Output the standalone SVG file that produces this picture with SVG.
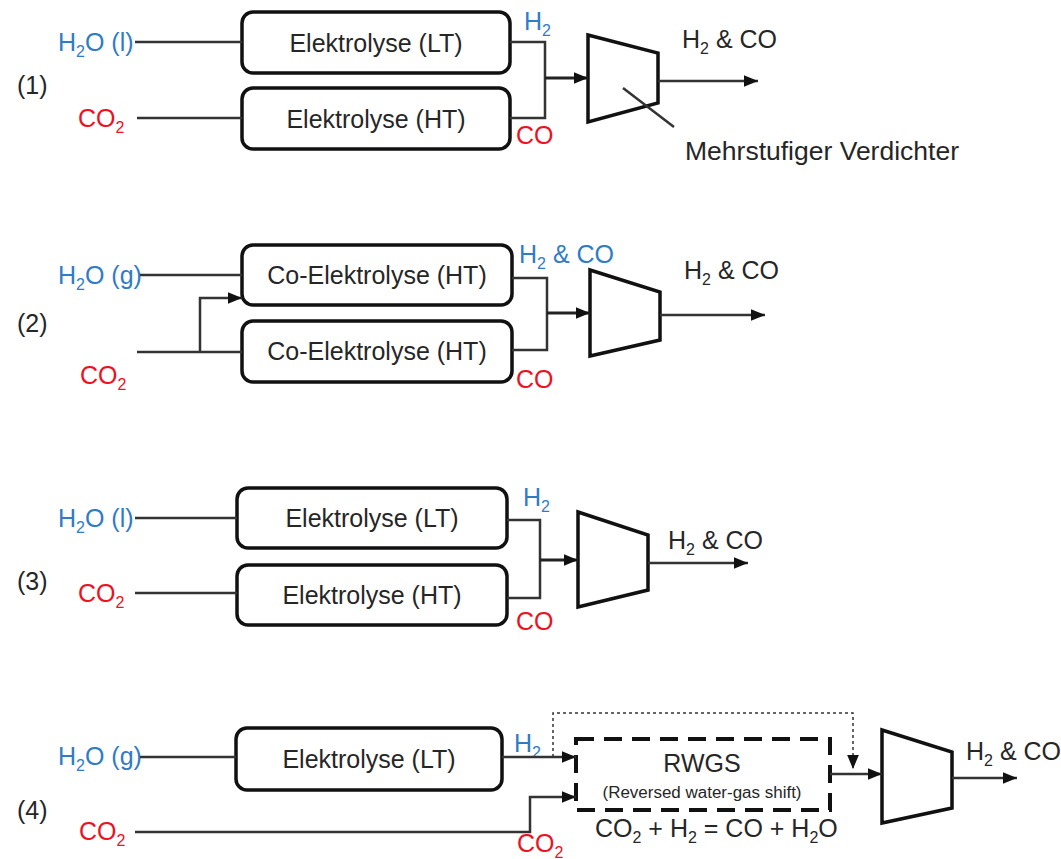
<svg xmlns="http://www.w3.org/2000/svg" width="1061" height="859" viewBox="0 0 1061 859">
<style>
text{font-family:"Liberation Sans",Arial,sans-serif;fill:#262626}
.lbl{font-size:25px}
.in{font-size:25px}
.sub{font-size:16px}
.box{fill:#fff;stroke:#111;stroke-width:3.5}
.comp{fill:#fff;stroke:#111;stroke-width:3.5;stroke-linejoin:miter}
.blue{fill:#2f7cc6}
.red{fill:#ee1122}
.ln{fill:none;stroke:#333;stroke-width:2.5}
.ln2{fill:none;stroke:#222;stroke-width:3}
.dot{fill:none;stroke:#333;stroke-width:1.5;stroke-dasharray:3,3}
.dash{fill:none;stroke:#111;stroke-width:4;stroke-dasharray:18,10}
</style>
<defs>
<marker id="ar" viewBox="0 0 12 10" refX="12" refY="5" markerWidth="14" markerHeight="12" markerUnits="userSpaceOnUse" orient="auto">
<path d="M0,0 L12,5 L0,10 Z" fill="#111"/>
</marker>
</defs>

<g id="labels">
<text x="17" y="94" class="in">(1)</text>
<text x="17" y="332" class="in">(2)</text>
<text x="17" y="590" class="in">(3)</text>
<text x="17" y="819" class="in">(4)</text>
</g>

<!-- Section 1 -->
<g id="s1-h2o"><text x="58" y="51" class="in blue">H<tspan class="sub" dy="6">2</tspan><tspan dy="-6">O (l)</tspan></text></g>
<g id="s1-co2"><text x="78" y="127" class="in red">CO<tspan class="sub" dy="6">2</tspan></text></g>
<g id="s1-lt"><rect class="box" x="242" y="12" width="268" height="61" rx="11"/><text x="376" y="52" class="lbl" text-anchor="middle">Elektrolyse (LT)</text></g>
<g id="s1-ht"><rect class="box" x="242" y="88" width="268" height="61" rx="11"/><text x="376" y="128" class="lbl" text-anchor="middle">Elektrolyse (HT)</text></g>
<g id="s1-comp"><path class="comp" d="M588,35 L658,53 L658,103 L588,122 Z"/></g>
<g id="s1-texts">
<text x="524" y="30" class="in blue">H<tspan class="sub" dy="6">2</tspan></text>
<text x="516" y="144" class="in red">CO</text>
<text x="682" y="48" class="in">H<tspan class="sub" dy="6">2</tspan><tspan dy="-6"> &amp; CO</tspan></text>
<text x="685" y="160" class="in" textLength="274" lengthAdjust="spacingAndGlyphs">Mehrstufiger Verdichter</text>
</g>

<!-- Section 2 -->
<g id="s2-h2o"><text x="58" y="284" class="in blue">H<tspan class="sub" dy="6">2</tspan><tspan dy="-6">O (g)</tspan></text></g>
<g id="s2-co2"><text x="80" y="384" class="in red">CO<tspan class="sub" dy="6">2</tspan></text></g>
<g id="s2-b1"><rect class="box" x="242" y="245" width="270" height="60" rx="11"/><text x="377" y="284" class="lbl" text-anchor="middle">Co-Elektrolyse (HT)</text></g>
<g id="s2-b2"><rect class="box" x="242" y="321" width="270" height="61" rx="11"/><text x="377" y="360" class="lbl" text-anchor="middle">Co-Elektrolyse (HT)</text></g>
<g id="s2-comp"><path class="comp" d="M590,270 L660,292 L660,340 L590,356 Z"/></g>
<g id="s2-texts">
<text x="519" y="263" class="in blue">H<tspan class="sub" dy="6">2</tspan><tspan dy="-6"> &amp; CO</tspan></text>
<text x="516" y="388" class="in red">CO</text>
<text x="684" y="279" class="in">H<tspan class="sub" dy="6">2</tspan><tspan dy="-6"> &amp; CO</tspan></text>
</g>

<!-- Section 3 -->
<g id="s3-h2o"><text x="58" y="527" class="in blue">H<tspan class="sub" dy="6">2</tspan><tspan dy="-6">O (l)</tspan></text></g>
<g id="s3-co2"><text x="78" y="602" class="in red">CO<tspan class="sub" dy="6">2</tspan></text></g>
<g id="s3-lt"><rect class="box" x="237" y="488" width="270" height="60" rx="11"/><text x="372" y="527" class="lbl" text-anchor="middle">Elektrolyse (LT)</text></g>
<g id="s3-ht"><rect class="box" x="237" y="565" width="270" height="60" rx="11"/><text x="372" y="604" class="lbl" text-anchor="middle">Elektrolyse (HT)</text></g>
<g id="s3-comp"><path class="comp" d="M578,512 L648,535 L648,590 L578,607 Z"/></g>
<g id="s3-texts">
<text x="523" y="506" class="in blue">H<tspan class="sub" dy="6">2</tspan></text>
<text x="516" y="630" class="in red">CO</text>
<text x="668" y="549" class="in">H<tspan class="sub" dy="6">2</tspan><tspan dy="-6"> &amp; CO</tspan></text>
</g>

<!-- Section 4 -->
<g id="s4-h2o"><text x="58" y="765" class="in blue">H<tspan class="sub" dy="6">2</tspan><tspan dy="-6">O (g)</tspan></text></g>
<g id="s4-co2"><text x="79" y="840" class="in red">CO<tspan class="sub" dy="6">2</tspan></text></g>
<g id="s4-lt"><rect class="box" x="236" y="728" width="266" height="62" rx="11"/><text x="369" y="768" class="lbl" text-anchor="middle">Elektrolyse (LT)</text></g>
<g id="s4-rwgs"><rect class="dash" x="576" y="739" width="254" height="71"/>
<text x="702" y="772" class="lbl" text-anchor="middle">RWGS</text>
<text x="702" y="798" font-size="16" text-anchor="middle" textLength="199" lengthAdjust="spacingAndGlyphs">(Reversed water-gas shift)</text></g>
<g id="s4-comp"><path class="comp" d="M882,730 L952,752 L952,808 L882,823 Z"/></g>
<g id="s4-texts">
<text x="514" y="752" class="in blue">H<tspan class="sub" dy="6">2</tspan></text>
<text x="517" y="852" class="in red">CO<tspan class="sub" dy="6">2</tspan></text>
<text x="595" y="837" class="in" font-size="24">CO<tspan class="sub" dy="6">2</tspan><tspan dy="-6"> + H</tspan><tspan class="sub" dy="6">2</tspan><tspan dy="-6">  = CO + H</tspan><tspan class="sub" dy="6">2</tspan><tspan dy="-6">O</tspan></text>
<text x="966" y="760" class="in">H<tspan class="sub" dy="6">2</tspan><tspan dy="-6"> &amp; CO</tspan></text>
</g>

<g id="connectors">
<!-- s1 -->
<path class="ln" d="M135,42 H242"/>
<path class="ln" d="M137,118 H242"/>
<path class="ln" d="M510,42 H545 V118 H510"/>
<path class="ln2" d="M545,78 H588" marker-end="url(#ar)"/>
<path class="ln" d="M658,81 H758" marker-end="url(#ar)"/>
<path class="ln" stroke-width="1.5" d="M623,88 L674,127"/>
<!-- s2 -->
<path class="ln" d="M140,275 H242"/>
<path class="ln" d="M137,352 H242"/>
<path class="ln" d="M200,352 V298 H242" marker-end="url(#ar)"/>
<path class="ln" d="M512,278 H547 V350 H512"/>
<path class="ln2" d="M547,313 H590" marker-end="url(#ar)"/>
<path class="ln" d="M660,315 H765" marker-end="url(#ar)"/>
<!-- s3 -->
<path class="ln" d="M135,518 H237"/>
<path class="ln" d="M135,593 H237"/>
<path class="ln" d="M507,520 H540 V598 H507"/>
<path class="ln2" d="M540,560 H578" marker-end="url(#ar)"/>
<path class="ln" d="M648,563 H748" marker-end="url(#ar)"/>
<!-- s4 -->
<path class="ln" d="M140,757 H236"/>
<path class="ln" d="M502,757 H576" marker-end="url(#ar)"/>
<path class="ln" d="M135,832 H530 V797 H576" marker-end="url(#ar)"/>
<path class="dot" d="M553,757 V713 H853 V769" marker-end="url(#ar)"/>
<path class="ln" d="M830,774 H882" marker-end="url(#ar)"/>
<path class="ln" d="M952,778 H1017" marker-end="url(#ar)"/>
</g>
</svg>
